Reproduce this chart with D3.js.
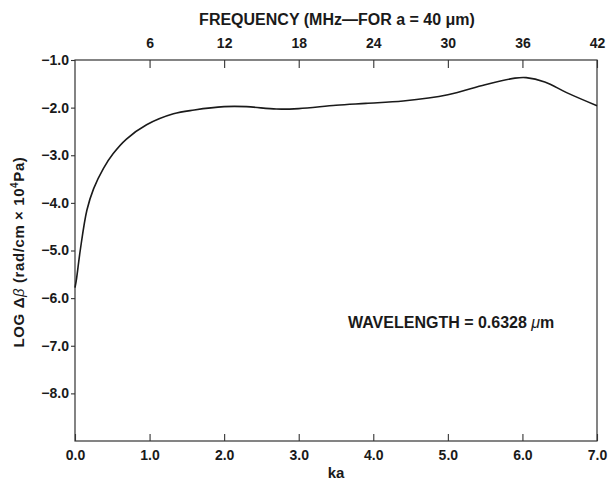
<!DOCTYPE html>
<html>
<head>
<meta charset="utf-8">
<script src="https://cdnjs.cloudflare.com/ajax/libs/d3/7.8.5/d3.min.js"></script>
<style>
  body { margin: 0; background: #fff; }
  svg text { font-family: "Liberation Sans", Arial, sans-serif; font-weight: bold; fill: #1a1a1a; }
</style>
</head>
<body>
<div id="chart"></div>
<script>
// curve: ka vs log Δβ
const ka = [0, 0.02, 0.07, 0.16, 0.25, 0.38, 0.51, 0.69, 0.96, 1.32, 1.6, 2.0, 2.3, 2.7, 3.0, 3.5, 3.9, 4.4, 5.0, 5.5, 5.9, 6.05, 6.3, 6.6, 7.0];
const logDb = [-5.78, -5.6, -5.0, -4.15, -3.7, -3.28, -2.97, -2.66, -2.36, -2.13, -2.05, -1.98, -1.98, -2.03, -2.02, -1.95, -1.91, -1.86, -1.73, -1.52, -1.38, -1.37, -1.46, -1.69, -1.96];

const kaTicks = [0, 1, 2, 3, 4, 5, 6, 7];
const freqTicks = [6, 12, 18, 24, 30, 36, 42];
const yTicks = [-1, -2, -3, -4, -5, -6, -7, -8];

const width = 610, height = 484;
const margin = { top: 60, right: 13, bottom: 43, left: 75 };

const svg = d3.select("#chart").append("svg")
    .attr("width", width)
    .attr("height", height);

const x = d3.scaleLinear().domain([0, 7]).range([margin.left, width - margin.right]);
const xf = d3.scaleLinear().domain([0, 42]).range([margin.left, width - margin.right]);
const y = d3.scaleLinear().domain([-9, -1]).range([height - margin.bottom, margin.top]);

const fmt = d => (d < 0 ? "\u2212" : "") + Math.abs(d).toFixed(1);

// frame
svg.append("rect")
    .attr("x", x(0)).attr("y", y(-1))
    .attr("width", x(7) - x(0)).attr("height", y(-9) - y(-1))
    .attr("fill", "none").attr("stroke", "#333").attr("stroke-width", 1.2);

// bottom axis
const bottomAxis = svg.append("g")
    .attr("transform", `translate(0,${y(-9)})`)
    .call(d3.axisBottom(x).tickValues(kaTicks).tickSize(-7).tickPadding(12).tickFormat(d => d.toFixed(1)));
bottomAxis.select(".domain").remove();
bottomAxis.selectAll("text").attr("font-size", 14).attr("dy", "0.5em");

// top axis (frequency)
const topAxis = svg.append("g")
    .attr("transform", `translate(0,${y(-1)})`)
    .call(d3.axisTop(xf).tickValues(freqTicks).tickSize(-8).tickPadding(12));
topAxis.select(".domain").remove();
topAxis.selectAll("text").attr("font-size", 14);

// left axis
const leftAxis = svg.append("g")
    .attr("transform", `translate(${x(0)},0)`)
    .call(d3.axisLeft(y).tickValues(yTicks).tickSize(4).tickPadding(2).tickFormat(fmt));
leftAxis.select(".domain").remove();
leftAxis.selectAll("text").attr("font-size", 14);

svg.selectAll(".tick line").attr("stroke", "#333").attr("stroke-width", 1.1);

// curve
const pts = ka.map((k, i) => [k, logDb[i]]);
svg.append("path")
    .datum(pts)
    .attr("fill", "none")
    .attr("stroke", "#1a1a1a")
    .attr("stroke-width", 1.6)
    .attr("d", d3.line().x(d => x(d[0])).y(d => y(d[1])).curve(d3.curveCatmullRom.alpha(0.5)));

// titles
svg.append("text")
    .attr("x", 337).attr("y", 25)
    .attr("text-anchor", "middle").attr("font-size", 16)
    .text("FREQUENCY (MHz\u2014FOR a = 40 \u03bcm)");

svg.append("text")
    .attr("x", x(3.5)).attr("y", 478)
    .attr("text-anchor", "middle").attr("font-size", 15)
    .text("ka");

const yl = svg.append("text")
    .attr("transform", "translate(24,252) rotate(-90)")
    .attr("text-anchor", "middle").attr("font-size", 15)
    .attr("letter-spacing", 0.6);
yl.append("tspan").text("LOG \u0394");
yl.append("tspan").attr("font-style", "italic").attr("font-weight", "normal").text("\u03b2");
yl.append("tspan").text(" (rad/cm \u00d7 10");
yl.append("tspan").attr("font-size", 10).attr("dy", -6).text("4");
yl.append("tspan").attr("dy", 6).text("Pa)");

const wl = svg.append("text")
    .attr("x", 348).attr("y", 328)
    .attr("font-size", 16);
wl.append("tspan").text("WAVELENGTH = 0.6328 ");
wl.append("tspan").attr("font-style", "italic").attr("font-weight", "normal").text("\u03bc");
wl.append("tspan").text("m");
</script>
</body>
</html>
